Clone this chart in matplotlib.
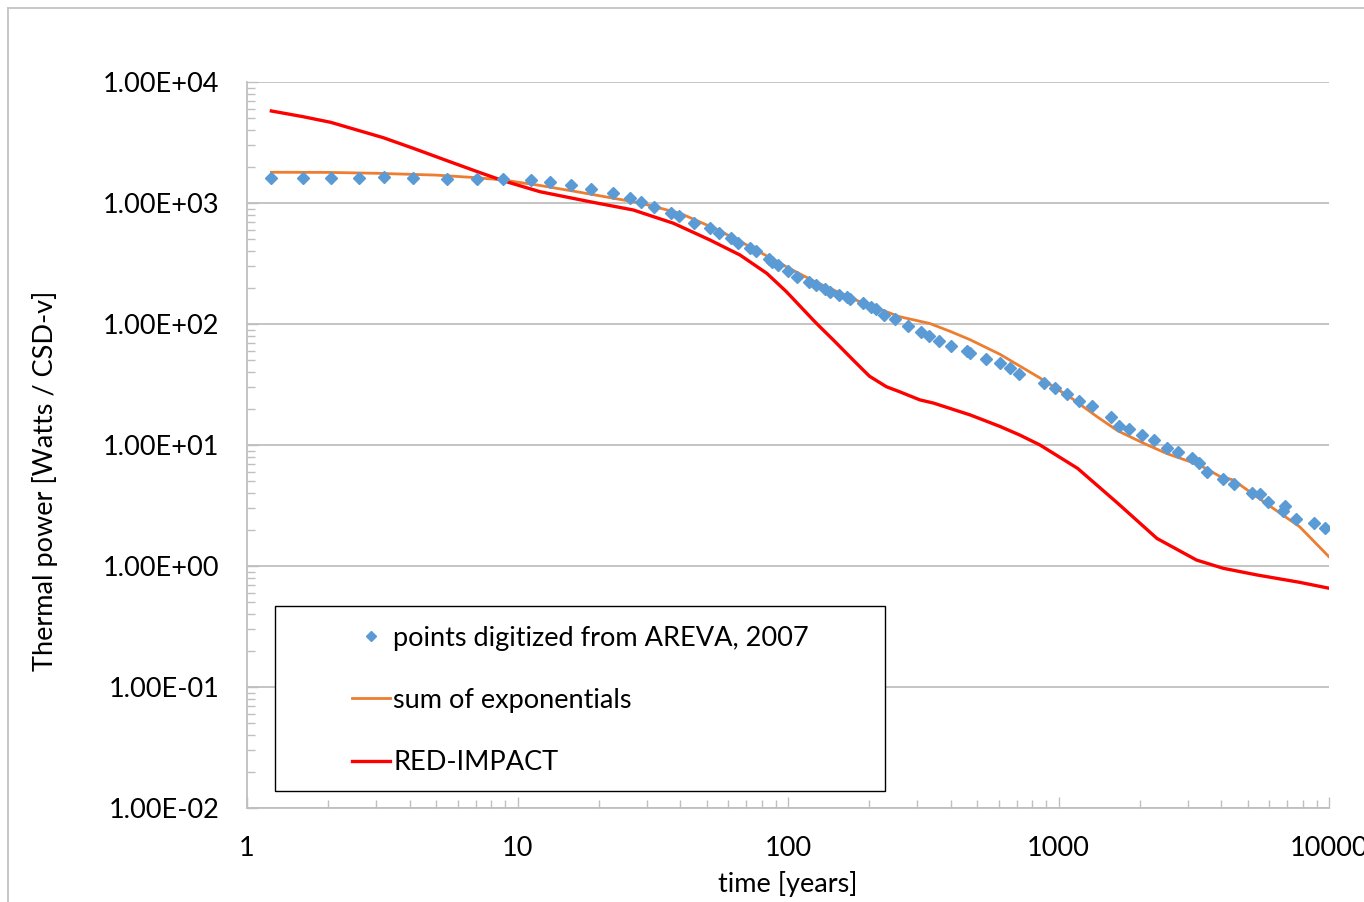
import matplotlib
matplotlib.use("Agg")
import matplotlib.pyplot as plt
from matplotlib.ticker import FuncFormatter, LogLocator, NullFormatter
from matplotlib.patches import Rectangle
from matplotlib.lines import Line2D

plt.rcParams['font.family'] = ['Lato', 'DejaVu Sans']

areva_t = [1.23, 1.61, 2.04, 2.59, 3.21, 4.10, 5.49, 7.10, 8.84, 11.2, 13.2, 15.8, 18.7,
           22.5, 26.0, 28.5, 32.0, 36.8, 39.6, 45.0, 51.5, 55.6, 61.5, 65.5, 72.4, 76.2,
           85.3, 87.5, 92.1, 100.3, 108, 119.6, 126.5, 137, 143, 154, 165, 170, 190, 202,
           211, 227, 248, 278, 309, 333, 362, 399, 458, 471, 538, 605, 662, 715, 887, 971,
           1078, 1195, 1327, 1560, 1679, 1828, 2032, 2261, 2525, 2773, 3125, 3316, 3551,
           4066, 4467, 5177, 5559, 5970, 6779, 6876, 7553, 8810, 9660]
areva_p = [1620, 1620, 1620, 1620, 1630, 1600, 1590, 1590, 1580, 1550, 1490, 1410, 1306,
           1200, 1094, 1010, 921, 822, 781, 688, 625, 568, 511, 470, 422, 401,
           344, 327, 307, 274, 246, 224, 210, 194, 185, 174, 168, 161, 148, 139,
           132, 119, 109, 96.8, 86.3, 79.6, 72.4, 66.2, 60.2, 57.9, 51.4, 47.3, 43.6, 38.4, 32.7, 29.4,
           26.2, 23.1, 21.1, 17.1, 14.4, 13.5, 12.1, 11.0, 9.5, 8.7, 7.76, 7.06, 6.02,
           5.20, 4.76, 4.03, 3.91, 3.40, 2.85, 3.13, 2.44, 2.25, 2.07]

# sum of exponentials fit
sumexp_t = [1.23, 2, 3, 5, 7, 8.84, 12, 16, 20, 28.4, 40, 55, 72.4, 100, 125, 147, 184, 258,
            334, 397, 472, 609, 718, 850, 1000, 1097, 1400, 1655, 2070, 2512, 3315, 3950,
            4424, 5840, 7785, 10000]
sumexp_p = [1795, 1790, 1760, 1700, 1620, 1550, 1400, 1256, 1150, 1000, 820, 600, 435, 292,
            225, 191, 153, 115, 101, 87, 74, 56, 45, 36, 28.5, 25.1, 16.9, 13.1, 10.3, 8.5,
            6.84, 5.5, 5.14, 3.30, 2.11, 1.19]

# RED-IMPACT curve
red_t = [1.23, 1.61, 2.04, 3.19, 4.12, 5.48, 7.1, 8.84, 12.1, 18.5, 26.8, 37.7, 51.5, 66.4,
         83.5, 98.6, 123.8, 131, 147, 174, 200, 231, 258, 307, 345, 472, 609, 718, 854, 1176,
         1655, 2310, 3236, 4066, 5420, 7785, 10000]
red_p = [5760, 5170, 4640, 3465, 2830, 2240, 1815, 1528, 1240, 1025, 875, 680, 494, 372,
         262, 185, 108, 95, 73.8, 50.4, 37, 30.3, 27.6, 23.6, 22.2, 17.7, 14.2, 12.1, 10, 6.41,
         3.30, 1.69, 1.12, 0.957, 0.843, 0.733, 0.655]

BLUE = '#5B9BD5'
ORANGE = '#ED7D31'
RED = '#FF0000'
GRAY = '#BFBFBF'
FS = 19.5

fig = plt.figure(figsize=(13.64, 9.02), dpi=100)
ax = fig.add_axes([0.1811, 0.1042, 0.7933, 0.8049])

ax.plot(sumexp_t, sumexp_p, color=ORANGE, lw=2.0, zorder=3)
ax.plot(red_t, red_p, color=RED, lw=2.4, zorder=4)
ax.plot(areva_t, areva_p, ls='none', marker='D', ms=6, color=BLUE, mec=BLUE, zorder=5)

ax.set_xscale('log')
ax.set_yscale('log')
ax.set_xlim(1, 10000)
ax.set_ylim(1e-2, 1e4)

ax.yaxis.set_major_formatter(FuncFormatter(lambda v, p: f"{v:.2E}"))
ax.xaxis.set_major_formatter(FuncFormatter(lambda v, p: f"{v:.0f}"))
ax.xaxis.set_minor_locator(LogLocator(base=10, subs=range(2, 10), numticks=20))
ax.yaxis.set_minor_locator(LogLocator(base=10, subs=range(2, 10), numticks=20))
ax.xaxis.set_minor_formatter(NullFormatter())
ax.yaxis.set_minor_formatter(NullFormatter())

ax.grid(True, which='major', axis='y', color=GRAY, lw=1.3)
ax.set_axisbelow(True)
for s in ['top', 'right']:
    ax.spines[s].set_visible(False)
for s in ['left', 'bottom']:
    ax.spines[s].set_color(GRAY)
    ax.spines[s].set_linewidth(1.3)

ax.tick_params(which='both', direction='in', color=GRAY, width=1.0, labelsize=FS)
ax.tick_params(which='major', length=8)
ax.tick_params(which='minor', length=6)
ax.tick_params(axis='x', pad=20)
ax.tick_params(axis='y', pad=20)

ax.set_xlabel('time [years]', fontsize=FS)
ax.set_ylabel('Thermal power [Watts / CSD-v]', fontsize=FS)
ax.xaxis.set_label_coords(0.5, -0.087)
ax.yaxis.set_label_coords(-0.175, 0.45)

# legend box with a wide left margin
box = Rectangle((0.0259, 0.0234), 0.564, 0.2548, transform=ax.transAxes,
                facecolor='white', edgecolor='black', lw=1.0, zorder=6)
ax.add_patch(box)
handles = [Line2D([], [], ls='none', marker='D', ms=5, color=BLUE),
           Line2D([], [], color=ORANGE, lw=2.0),
           Line2D([], [], color=RED, lw=2.4)]
labels = ['points digitized from AREVA, 2007', 'sum of exponentials', 'RED-IMPACT']
leg = ax.legend(handles, labels, loc='upper left', bbox_to_anchor=(0.097, 0.251),
                frameon=False, fontsize=FS, handlelength=1.4, handletextpad=0.12,
                labelspacing=1.37, borderaxespad=0, borderpad=0)
leg.set_zorder(7)

# outer chart border
fig.add_artist(Line2D([8 / 1364, 1], [1 - 8 / 902, 1 - 8 / 902], color=GRAY, lw=1.2))
fig.add_artist(Line2D([8 / 1364, 8 / 1364], [0, 1 - 8 / 902], color=GRAY, lw=1.2))

fig.savefig('out.png', dpi=100)
